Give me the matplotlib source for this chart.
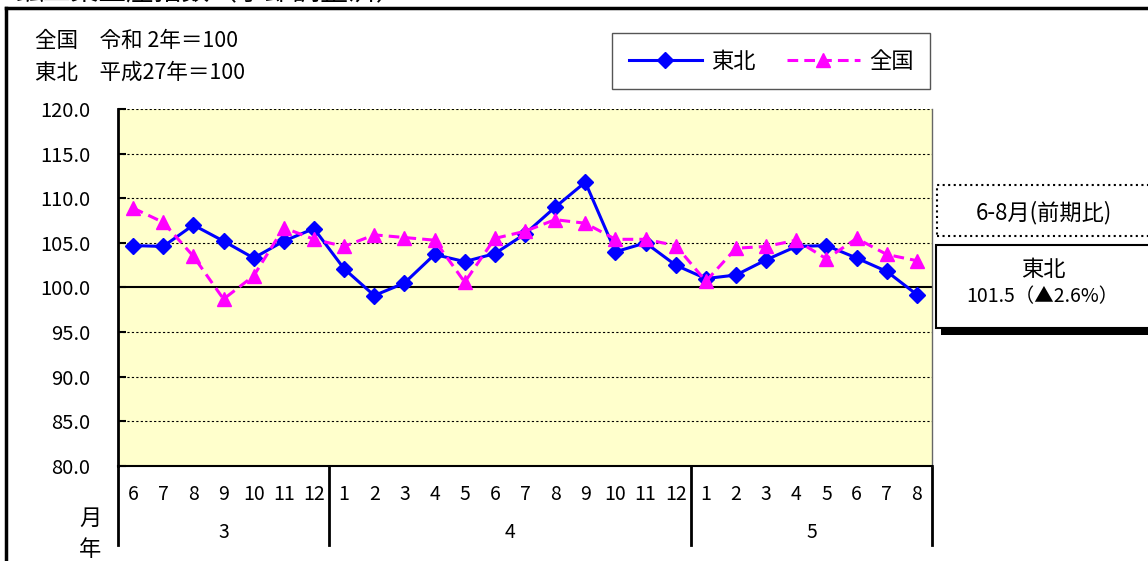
import numpy as np
import matplotlib
matplotlib.use("Agg")
import matplotlib.pyplot as plt
from matplotlib.lines import Line2D
from matplotlib.patches import Rectangle

plt.rcParams['font.family'] = ['Noto Sans CJK JP', 'DejaVu Sans']

# data
months = [6, 7, 8, 9, 10, 11, 12,
          1, 2, 3, 4, 5, 6, 7, 8, 9, 10, 11, 12,
          1, 2, 3, 4, 5, 6, 7, 8]
years = ['3', '4', '5']
year_counts = [7, 12, 8]
tohoku = [104.7, 104.6, 107.0, 105.2, 103.3, 105.2, 106.6,
          102.1, 99.1, 100.5, 103.7, 102.9, 103.8, 106.0, 109.0, 111.8, 104.0, 105.0, 102.5,
          101.0, 101.4, 103.1, 104.6, 104.7, 103.3, 101.8, 99.2]
zenkoku = [108.9, 107.3, 103.5, 98.7, 101.3, 106.7, 105.4,
           104.6, 105.9, 105.6, 105.3, 100.6, 105.5, 106.3, 107.6, 107.2, 105.4, 105.4, 104.7,
           100.7, 104.4, 104.6, 105.3, 103.2, 105.5, 103.7, 103.0]
yticks = [80, 85, 90, 95, 100, 105, 110, 115, 120]

W, H = 1148, 561
fig = plt.figure(figsize=(W / 100, H / 100), dpi=100)


def fx(x):
    return x / W


def fy(y):
    return 1 - y / H


ax = fig.add_axes([fx(118), fy(466), fx(932) - fx(118), fy(109) - fy(466)])
ax.set_facecolor('#FFFFCC')

x = np.arange(len(months))
ax.plot(x, tohoku, color='#0000FF', lw=2.2, marker='D', ms=8.5, label='東北', zorder=4)
ax.plot(x, zenkoku, color='#FF00FF', lw=2.2, ls=(0, (3.5, 2)), marker='^', ms=10.5,
        label='全国', zorder=5)

ax.set_xlim(-0.5, len(months) - 0.5)
ax.set_ylim(80, 120)
for v in yticks[1:]:
    if v == 100:
        ax.axhline(v, color='black', lw=1.5, zorder=2)
    else:
        ax.axhline(v, color='black', lw=0.8, ls=(0, (2, 2)), zorder=2)

ax.set_yticks(yticks)
ax.set_yticklabels([f"{v:.1f}" for v in yticks], fontsize=14.5)
ax.tick_params(axis='y', direction='in', length=6, width=1.5, pad=20)
ax.set_xticks([])
ax.spines['top'].set_visible(False)
ax.spines['left'].set_linewidth(2)
ax.spines['bottom'].set_linewidth(1.5)
ax.spines['right'].set_color('#666666')
ax.spines['right'].set_linewidth(1)

# month / year table under the plot
tr = ax.get_xaxis_transform()
yb = -(545 - 466) / (466 - 109)
for i, m in enumerate(months):
    ax.text(i, -(494 - 466) / (466 - 109), str(m), transform=tr, ha='center', va='center',
            fontsize=14, clip_on=False)
start = 0
for yr, n in zip(years, year_counts):
    ax.text(start + (n - 1) / 2, -(533 - 466) / (466 - 109), yr, transform=tr,
            ha='center', va='center', fontsize=14, clip_on=False)
    start += n
bounds = np.cumsum([0] + year_counts) - 0.5
for b in bounds:
    ax.add_line(Line2D([b, b], [0, yb], transform=tr, color='black', lw=2, clip_on=False))

fig.text(fx(90), fy(518), '月', ha='center', va='center', fontsize=16)
fig.text(fx(90), fy(550), '年', ha='center', va='center', fontsize=16)

# outer frame and title (cut by the top edge, as in the source)
fig.add_artist(Line2D([fx(6), 1], [fy(8), fy(8)], color='black', lw=2.5))
fig.add_artist(Line2D([fx(6), fx(6)], [fy(8), 0], color='black', lw=2.5))
fig.text(fx(15), fy(7), '鉱工業生産指数（季節調整済）', ha='left', va='bottom', fontsize=20)

fig.text(fx(35), fy(41), '全国　令和 2年＝100', ha='left', va='center', fontsize=15.5)
fig.text(fx(35), fy(73), '東北　平成27年＝100', ha='left', va='center', fontsize=15.5)

leg = fig.legend(loc='center', bbox_to_anchor=(fx(771), fy(61)), ncol=2, fontsize=16,
                 handlelength=3.3, handletextpad=0.4, columnspacing=1.4, borderpad=0.75,
                 fancybox=False, framealpha=1)
leg.get_frame().set_edgecolor('#555555')
leg.get_frame().set_linewidth(1)

# right side boxes
fig.add_artist(Rectangle((fx(937), fy(236)), fx(1152) - fx(937), fy(185) - fy(236),
                         fill=False, ls=':', lw=1.5, ec='black'))
fig.text(fx(1044), fy(213), '6-8月(前期比)', ha='center', va='center', fontsize=16)
fig.add_artist(Rectangle((fx(941), fy(335)), fx(1152) - fx(941), fy(250) - fy(335),
                         fc='black', ec='black', lw=0))
fig.add_artist(Rectangle((fx(936), fy(328)), fx(1152) - fx(936), fy(245) - fy(328),
                         fc='white', ec='black', lw=1.5))
fig.text(fx(1043), fy(270), '東北', ha='center', va='center', fontsize=16)
fig.text(fx(1042), fy(297), '101.5（▲2.6%）', ha='center', va='center', fontsize=14)

fig.savefig('out.png', dpi=100)
